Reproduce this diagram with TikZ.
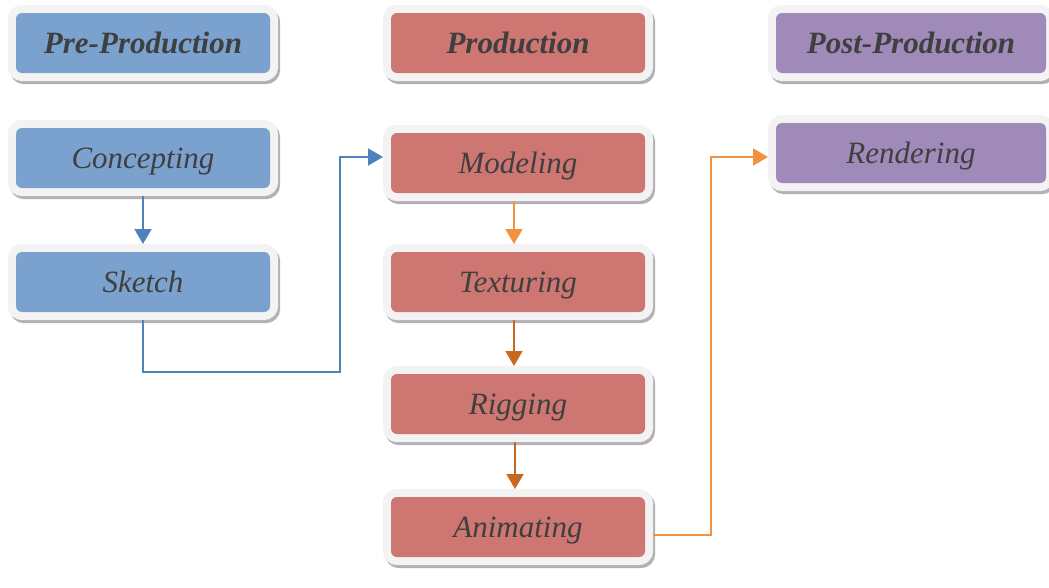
\documentclass[tikz,border=0pt]{standalone}
\usepackage{fontspec}
\setmainfont{Liberation Serif}
\usetikzlibrary{arrows.meta, positioning}
\definecolor{preblue}{HTML}{7BA2CF}
\definecolor{prodred}{HTML}{CD7672}
\definecolor{postviolet}{HTML}{A08ABA}
\definecolor{txtgray}{HTML}{3F3F3F}
\definecolor{frameclr}{HTML}{F3F3F3}
\definecolor{shadowclr}{HTML}{B4B0B6}
\definecolor{lineblue}{HTML}{4F81BD}
\definecolor{lineorange}{HTML}{F0923E}
\definecolor{linebrown}{HTML}{C8681E}

\begin{document}
\begin{tikzpicture}[
    x=1pt, y=-1pt,
    stagebox/.style={rounded corners=6pt, minimum width=254pt, minimum height=60pt,
                 inner sep=0pt, outer sep=8pt, text=txtgray,
                 text height=22pt, text depth=2pt,
                 font=\fontsize{31}{33}\selectfont\itshape,
                 preaction={draw=shadowclr, line width=16pt,
                            transform canvas={shift={(2pt,-3pt)}}},
                 preaction={draw=frameclr, line width=16pt}},
    headbox/.style={stagebox, font=\fontsize{31}{33}\selectfont\bfseries\itshape},
    pre/.style={fill=preblue},
    prod/.style={fill=prodred},
    post/.style={fill=postviolet, minimum width=270pt},
    flow/.style={-{Triangle[length=15pt, width=17pt]}, line width=2pt},
    bflow/.style={flow, draw=lineblue},
    oflow/.style={flow, draw=lineorange},
    dflow/.style={flow, draw=linebrown},
]
\useasboundingbox (0,0) rectangle (1049,587);
% column heads
\node[headbox, pre] (prehead) at (143,43) {Pre-Production};
\node[headbox, prod] (prodhead) at (518,43) {Production};
\node[headbox, post] (posthead) at (911,43) {Post-Production};
% pre-production
\node[stagebox, pre] (concepting) at (143,158) {Concepting};
\node[stagebox, pre] (sketch) at (143,282) {Sketch};
% production
\node[stagebox, prod] (modeling) at (518,163) {Modeling};
\node[stagebox, prod] (texturing) at (518,282) {Texturing};
\node[stagebox, prod] (rigging) at (518,404) {Rigging};
\node[stagebox, prod] (animating) at (518,527) {Animating};
% post-production
\node[stagebox, post] (rendering) at (911,153) {Rendering};
% connectors
\draw[bflow] (concepting) -- (sketch);
\draw[bflow] (sketch.south) |- (340,372) |- ([yshift=6pt]modeling.west);
\draw[oflow] ([xshift=-4pt]modeling.south) -- ([xshift=-4pt]texturing.north);
\draw[dflow] ([xshift=-4pt]texturing.south) -- ([xshift=-4pt]rigging.north);
\draw[dflow] ([xshift=-3pt]rigging.south) -- ([xshift=-3pt]animating.north);
\draw[oflow] ([yshift=-8pt]animating.east) -| (711,157)
   -- ([yshift=-4pt]rendering.west);
\end{tikzpicture}
\end{document}
